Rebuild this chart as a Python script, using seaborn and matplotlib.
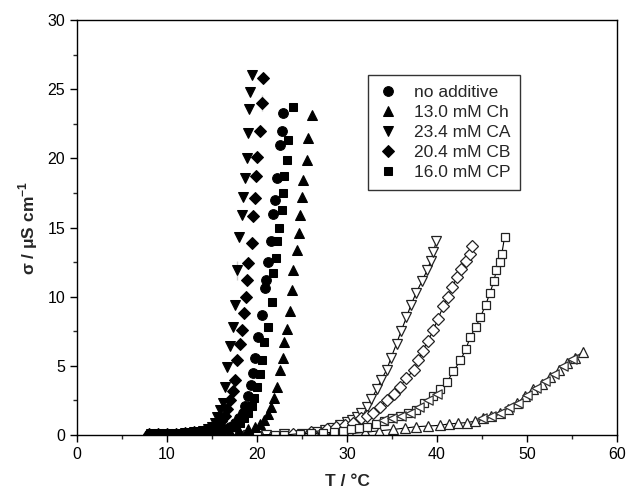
import matplotlib
matplotlib.use("Agg")
import matplotlib.pyplot as plt
import seaborn as sns
import pandas as pd

# ---- filled series (T / degC, sigma / uS cm-1) ----
no_add_T = [8.0, 9.0, 10.0, 11.5, 13.0, 14.5, 15.5, 16.3, 17.0, 17.6, 18.0, 18.4, 18.7, 19.0, 19.3, 19.6, 19.8, 20.1, 20.6, 20.9, 21.0, 21.2, 21.6, 21.8, 22.0, 22.2, 22.6, 22.8, 22.9]
no_add_S = [0.05, 0.06, 0.08, 0.1, 0.15, 0.2, 0.3, 0.4, 0.6, 0.9, 1.2, 1.6, 2.1, 2.8, 3.6, 4.5, 5.6, 7.1, 8.7, 10.6, 11.2, 12.5, 14.0, 16.0, 17.0, 18.6, 21.0, 22.0, 23.3]

ch_T = [10.0, 12.0, 14.0, 15.5, 17.0, 18.0, 19.0, 19.8, 20.3, 20.8, 21.2, 21.6, 21.9, 22.2, 22.6, 22.9, 23.0, 23.3, 23.7, 23.9, 24.0, 24.4, 24.7, 24.8, 25.0, 25.1, 25.6, 25.7, 26.1]
ch_S = [0.06, 0.08, 0.1, 0.15, 0.2, 0.3, 0.4, 0.6, 0.8, 1.1, 1.5, 2.0, 2.7, 3.5, 4.7, 5.6, 6.7, 7.7, 9.0, 10.5, 11.9, 13.4, 14.6, 15.9, 17.2, 18.4, 19.9, 21.5, 23.1]

ca_T = [8.2, 9.0, 10.0, 11.0, 12.0, 13.0, 14.0, 14.5, 15.0, 15.3, 15.6, 15.9, 16.2, 16.4, 16.7, 17.0, 17.3, 17.6, 17.8, 17.8, 18.0, 18.3, 18.4, 18.7, 18.9, 19.0, 19.1, 19.2, 19.4]
ca_S = [0.05, 0.06, 0.08, 0.1, 0.15, 0.2, 0.3, 0.4, 0.6, 0.9, 1.3, 1.8, 2.3, 3.5, 4.9, 6.4, 7.8, 9.4, 11.2, 12.6, 14.3, 15.9, 17.2, 18.6, 20.0, 21.8, 23.6, 24.8, 26.0]

cb_T = [8.0, 9.0, 10.0, 11.0, 12.0, 13.0, 14.2, 15.0, 15.6, 16.0, 16.4, 16.7, 17.0, 17.3, 17.6, 17.8, 18.1, 18.3, 18.6, 18.8, 18.9, 19.0, 19.4, 19.6, 19.8, 19.9, 20.0, 20.3, 20.6, 20.6, 20.7]
cb_S = [0.05, 0.06, 0.08, 0.1, 0.15, 0.2, 0.3, 0.45, 0.7, 1.0, 1.4, 1.9, 2.5, 3.2, 4.0, 5.4, 6.6, 7.6, 8.8, 10.0, 11.2, 12.4, 13.9, 15.8, 17.1, 18.7, 20.1, 22.0, 23.4, 24.6, 25.8]

cp_T = [9.0, 10.5, 12.0, 13.5, 15.0, 16.0, 16.8, 17.5, 18.1, 18.6, 19.0, 19.4, 19.7, 20.0, 20.3, 20.6, 20.8, 21.2, 21.7, 21.8, 22.1, 22.2, 22.4, 22.8, 22.9, 23.0, 23.3, 23.4, 24.0]
cp_S = [0.06, 0.08, 0.1, 0.15, 0.2, 0.3, 0.4, 0.6, 0.9, 1.2, 1.6, 2.1, 2.7, 3.5, 4.4, 5.4, 6.7, 7.8, 9.6, 11.7, 12.8, 14.0, 15.0, 16.3, 17.5, 18.7, 19.9, 21.3, 23.7]

# ---- open series ----
o_ca_T = [10, 12, 14, 16, 19, 21, 23, 25, 26.6, 27.5, 28.3, 29.2, 30.0, 30.6, 31.1, 31.6, 32.2, 32.7, 33.3, 33.8, 34.4, 34.9, 35.5, 36.0, 36.6, 37.1, 37.7, 38.3, 38.9, 39.3, 39.6, 39.9]
o_ca_S = [0, 0, 0, 0, 0, 0.02, 0.05, 0.1, 0.2, 0.35, 0.5, 0.7, 0.95, 1.1, 1.3, 1.6, 2.0, 2.6, 3.3, 4.0, 4.7, 5.6, 6.6, 7.5, 8.5, 9.4, 10.3, 11.1, 11.9, 12.6, 13.2, 14.0]

o_cb_T = [16, 20, 24, 26, 27.8, 28.8, 29.8, 30.7, 31.5, 32.2, 32.9, 33.7, 34.4, 35.2, 35.9, 36.6, 37.4, 37.9, 38.4, 39.0, 39.6, 40.1, 40.7, 41.2, 41.7, 42.2, 42.7, 43.2, 43.7, 43.9]
o_cb_S = [0, 0, 0.1, 0.2, 0.4, 0.55, 0.7, 0.9, 1.2, 1.4, 1.6, 2.0, 2.5, 3.0, 3.5, 4.1, 4.7, 5.4, 6.1, 6.8, 7.6, 8.4, 9.3, 10.0, 10.7, 11.4, 12.0, 12.6, 13.1, 13.7]

o_cp_T = [18, 20, 22, 23, 24.8, 26, 27.3, 28.5, 29.5, 30.4, 31.3, 32.2, 33.2, 34.1, 35.0, 35.9, 36.8, 37.7, 38.6, 39.6, 40.3, 41.1, 41.8, 42.6, 43.2, 43.7, 44.3, 44.8, 45.4, 45.9, 46.3, 46.6, 47.0, 47.2, 47.5]
o_cp_S = [0, 0, 0, 0, 0.1, 0.12, 0.15, 0.2, 0.3, 0.4, 0.5, 0.6, 0.8, 1.0, 1.2, 1.4, 1.6, 1.8, 2.3, 2.8, 3.3, 3.8, 4.6, 5.4, 6.2, 7.1, 7.8, 8.5, 9.4, 10.3, 11.1, 11.9, 12.5, 13.1, 14.3]

o_ch_T = [27, 30.3, 32, 33.5, 35.1, 36.4, 37.7, 39, 40.3, 41.3, 42.3, 43.3, 44.2, 45.1, 46.0, 47.0, 47.9, 48.9, 49.8, 50.7, 51.7, 52.6, 53.5, 54.4, 55.3, 56.2]
o_ch_S = [0.0, 0.1, 0.2, 0.3, 0.4, 0.5, 0.6, 0.65, 0.7, 0.8, 0.85, 0.9, 1.0, 1.2, 1.4, 1.6, 1.9, 2.3, 2.8, 3.3, 3.7, 4.2, 4.7, 5.2, 5.6, 6.0]

o_left_T = [34, 35, 36, 37, 38, 39, 40, 45, 46, 47, 48, 49, 50, 51, 52, 53, 54, 55]
o_left_S = [1.05, 1.2, 1.4, 1.6, 2.0, 2.5, 3.0, 1.2, 1.4, 1.6, 2.0, 2.3, 2.9, 3.4, 3.9, 4.4, 5.0, 5.5]

labels = ["no additive", "13.0 mM Ch", "23.4 mM CA", "20.4 mM CB", "16.0 mM CP"]
x_ticks = [0, 10, 20, 30, 40, 50, 60]
y_ticks = [0, 5, 10, 15, 20, 25, 30]

sns.set_theme(style="ticks")
plt.rcParams["font.family"] = ["Liberation Sans", "DejaVu Sans"]
plt.rcParams["mathtext.fontset"] = "custom"
plt.rcParams["mathtext.rm"] = "Liberation Sans"
plt.rcParams["mathtext.bf"] = "Liberation Sans:bold"

fig = plt.figure(figsize=(6.29, 5.01), dpi=100)
ax = fig.add_axes([0.1224, 0.1317, 0.8586, 0.8283])

filled = [(no_add_T, no_add_S, "o", 7), (ch_T, ch_S, "^", 7.5), (ca_T, ca_S, "v", 7.5),
          (cb_T, cb_S, "D", 6), (cp_T, cp_S, "s", 6)]

# open series with thin lines
opens = [(o_ch_T, o_ch_S, "^"), (o_ca_T, o_ca_S, "v"), (o_cb_T, o_cb_S, "D"), (o_cp_T, o_cp_S, "s")]
for T, S, m in opens:
    df = pd.DataFrame({"T": T, "S": S})
    sns.lineplot(data=df, x="T", y="S", ax=ax, color="black", lw=0.8, sort=False,
                 marker=m, markersize=7 if m in "^v" else 6, markerfacecolor="white",
                 markeredgecolor="#222222", markeredgewidth=0.9, zorder=2)
df = pd.DataFrame({"T": o_left_T, "S": o_left_S})
sns.scatterplot(data=df, x="T", y="S", ax=ax, marker="<", s=45, facecolor="white",
                edgecolor="#333333", linewidth=0.9, zorder=2)

for (T, S, m, ms), lab in zip(filled, labels):
    df = pd.DataFrame({"T": T, "S": S})
    sns.lineplot(data=df, x="T", y="S", ax=ax, linestyle="none", marker=m, markersize=ms,
                 color="black", markeredgecolor="black", label=lab, zorder=3, sort=False)

ax.set_xlim(0, 60)
ax.set_ylim(0, 30)
ax.set_xticks(x_ticks)
ax.set_yticks(y_ticks)
ax.set_xticks([5, 15, 25, 35, 45, 55], minor=True)
ax.set_yticks([2.5, 7.5, 12.5, 17.5, 22.5, 27.5], minor=True)
ax.tick_params(axis="both", which="major", direction="out", length=5, width=1, labelsize=11.5, colors="black")
ax.tick_params(axis="both", which="minor", direction="out", length=3, width=1)
for sp in ax.spines.values():
    sp.set_linewidth(1.0)
    sp.set_color("black")

ax.set_xlabel("T / °C", fontsize=12.5, fontweight="bold", labelpad=9)
ax.set_ylabel(r"σ / μS cm$^{\mathbf{-1}}$", fontsize=12.5, fontweight="bold", labelpad=5)

leg = ax.legend(loc="upper left", bbox_to_anchor=(0.539, 0.867), frameon=True, fancybox=False,
                edgecolor="black", fontsize=12.5, handlelength=1.2, handletextpad=0.9,
                labelspacing=0.28, borderpad=0.55, borderaxespad=0)
leg.get_frame().set_linewidth(1.0)

fig.savefig("out.png", dpi=100)
